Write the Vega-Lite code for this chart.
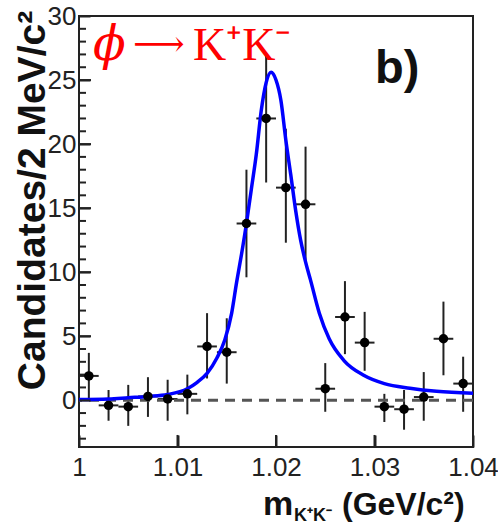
{
 "$schema": "https://vega.github.io/schema/vega-lite/v6.json",
 "width": 394, "height": 431,
 "autosize": "none",
 "padding": {"left": 79, "top": 16, "right": 25, "bottom": 78},
 "background": "white",
 "config": {"view": {"stroke": "#222", "strokeWidth": 2}, "font": "Liberation Sans"},
 "resolve": {"axis": {"y": "independent"}},
 "datasets": {
  "points": [
   {"m": 1.001, "n": 1.9, "lo": 0.1, "hi": 3.7, "mlo": 1.000, "mhi": 1.002},
   {"m": 1.003, "n": -0.4, "lo": -1.6, "hi": 0.8, "mlo": 1.002, "mhi": 1.004},
   {"m": 1.005, "n": -0.5, "lo": -2.0, "hi": 1.2, "mlo": 1.004, "mhi": 1.006},
   {"m": 1.007, "n": 0.3, "lo": -1.3, "hi": 1.8, "mlo": 1.006, "mhi": 1.008},
   {"m": 1.009, "n": 0.1, "lo": -1.6, "hi": 1.6, "mlo": 1.008, "mhi": 1.010},
   {"m": 1.011, "n": 0.5, "lo": -1.1, "hi": 2.0, "mlo": 1.010, "mhi": 1.012},
   {"m": 1.013, "n": 4.2, "lo": 1.7, "hi": 6.8, "mlo": 1.012, "mhi": 1.014},
   {"m": 1.015, "n": 3.75, "lo": 1.3, "hi": 6.4, "mlo": 1.014, "mhi": 1.016},
   {"m": 1.017, "n": 13.8, "lo": 9.6, "hi": 18.0, "mlo": 1.016, "mhi": 1.018},
   {"m": 1.019, "n": 22.0, "lo": 17.0, "hi": 27.0, "mlo": 1.018, "mhi": 1.020},
   {"m": 1.021, "n": 16.6, "lo": 12.3, "hi": 21.2, "mlo": 1.020, "mhi": 1.022},
   {"m": 1.023, "n": 15.3, "lo": 10.9, "hi": 19.8, "mlo": 1.022, "mhi": 1.024},
   {"m": 1.025, "n": 0.9, "lo": -0.9, "hi": 2.9, "mlo": 1.024, "mhi": 1.026},
   {"m": 1.027, "n": 6.5, "lo": 3.6, "hi": 9.3, "mlo": 1.026, "mhi": 1.028},
   {"m": 1.029, "n": 4.5, "lo": 2.3, "hi": 6.9, "mlo": 1.028, "mhi": 1.030},
   {"m": 1.031, "n": -0.5, "lo": -1.7, "hi": 0.5, "mlo": 1.030, "mhi": 1.032},
   {"m": 1.033, "n": -0.7, "lo": -2.3, "hi": 0.8, "mlo": 1.032, "mhi": 1.034},
   {"m": 1.035, "n": 0.25, "lo": -1.6, "hi": 2.2, "mlo": 1.034, "mhi": 1.036},
   {"m": 1.037, "n": 4.8, "lo": 1.95, "hi": 7.7, "mlo": 1.036, "mhi": 1.038},
   {"m": 1.039, "n": 1.3, "lo": -0.9, "hi": 3.4, "mlo": 1.038, "mhi": 1.040}
  ],
  "fit": [
   {"m": 1.000, "f": 0.05}, {"m": 1.003, "f": 0.1}, {"m": 1.005, "f": 0.2},
   {"m": 1.007, "f": 0.3}, {"m": 1.009, "f": 0.45}, {"m": 1.011, "f": 0.9},
   {"m": 1.012, "f": 1.4}, {"m": 1.013, "f": 2.1}, {"m": 1.014, "f": 3.3},
   {"m": 1.0148, "f": 4.7}, {"m": 1.0155, "f": 6.8}, {"m": 1.016, "f": 9.2},
   {"m": 1.0165, "f": 11.4}, {"m": 1.017, "f": 13.8}, {"m": 1.0175, "f": 16.5},
   {"m": 1.018, "f": 19.2}, {"m": 1.0185, "f": 22.6}, {"m": 1.019, "f": 24.8},
   {"m": 1.0195, "f": 25.6}, {"m": 1.020, "f": 25.0}, {"m": 1.0205, "f": 23.4},
   {"m": 1.021, "f": 20.3}, {"m": 1.0215, "f": 17.6}, {"m": 1.022, "f": 14.8},
   {"m": 1.0225, "f": 12.5}, {"m": 1.023, "f": 10.8}, {"m": 1.0235, "f": 9.4},
   {"m": 1.0244, "f": 6.8}, {"m": 1.0254, "f": 4.8}, {"m": 1.0269, "f": 3.1},
   {"m": 1.0289, "f": 1.95}, {"m": 1.031, "f": 1.3}, {"m": 1.0336, "f": 0.94},
   {"m": 1.0363, "f": 0.7}, {"m": 1.040, "f": 0.55}
  ],
  "ymajor": [{"t": 0}, {"t": 5}, {"t": 10}, {"t": 15}, {"t": 20}, {"t": 25}, {"t": 30}],
  "yminor": [{"t": -3}, {"t": -2}, {"t": -1}, {"t": 1}, {"t": 2}, {"t": 3}, {"t": 4}, {"t": 6}, {"t": 7}, {"t": 8}, {"t": 9}, {"t": 11}, {"t": 12}, {"t": 13}, {"t": 14}, {"t": 16}, {"t": 17}, {"t": 18}, {"t": 19}, {"t": 21}, {"t": 22}, {"t": 23}, {"t": 24}, {"t": 26}, {"t": 27}, {"t": 28}, {"t": 29}],
  "xmajor": [{"t": 1.01}, {"t": 1.02}, {"t": 1.03}],
  "one": [{}]
 },
 "layer": [
  {
   "data": {"name": "points"},
   "mark": {"type": "rule", "stroke": "#222", "strokeWidth": 2},
   "encoding": {
    "x": {"field": "m", "type": "quantitative",
     "scale": {"domain": [1, 1.04], "nice": false, "zero": false},
     "axis": {"orient": "bottom", "values": [1, 1.01, 1.02, 1.03, 1.04], "zindex": 1, "ticks": true,
      "labelExpr": "datum.value === 1 ? '1' : format(datum.value, '.2f')",
      "offset": -12, "tickSize": 12, "tickWidth": 2, "tickColor": "#222", "tickOpacity": 1, "domain": false, "grid": false,
      "labelFlush": false, "labelOverlap": false, "labelFontSize": 26, "labelColor": "#222", "labelPadding": 7,
      "title": null}},
    "y": {"field": "lo", "type": "quantitative",
     "scale": {"domain": [-3.65, 30], "nice": false, "zero": false},
     "axis": {"orient": "left", "values": [0, 5, 10, 15, 20, 25, 30], "zindex": 1, "ticks": true,
      "offset": -11, "tickSize": 11,
      "tickWidth": 2, "tickColor": "#222", "tickOpacity": 1, "domain": false, "grid": false,
      "labelFlush": false, "labelOverlap": false, "labelFontSize": 26, "labelColor": "#222", "labelPadding": 3,
      "title": "Candidates/2 MeV/c²", "titleFontSize": 39, "titleFontWeight": "bold", "titleColor": "#111",
      "titleX": -58, "titleY": 184, "titleAlign": "center", "titleBaseline": "middle", "titleAngle": -90}},
    "y2": {"field": "hi"}
   }
  },
  {
   "data": {"name": "points"},
   "mark": {"type": "rule", "stroke": "#222", "strokeWidth": 2},
   "encoding": {
    "x": {"field": "mlo", "type": "quantitative"},
    "x2": {"field": "mhi"},
    "y": {"field": "n", "type": "quantitative", "axis": null}
   }
  },
  {
   "data": {"name": "ymajor"},
   "mark": {"type": "rule", "stroke": "#222", "strokeWidth": 2},
   "encoding": {
    "x": {"datum": 1.0},
    "x2": {"datum": 1.00122},
    "y": {"field": "t", "type": "quantitative", "axis": null}
   }
  },
  {
   "data": {"name": "yminor"},
   "mark": {"type": "rule", "stroke": "#222", "strokeWidth": 2},
   "encoding": {
    "x": {"datum": 1.0},
    "x2": {"datum": 1.00071},
    "y": {"field": "t", "type": "quantitative", "axis": null}
   }
  },
  {
   "data": {"name": "xmajor"},
   "mark": {"type": "rule", "stroke": "#222", "strokeWidth": 2},
   "encoding": {
    "x": {"field": "t", "type": "quantitative"},
    "y": {"datum": -3.65, "axis": null},
    "y2": {"datum": -2.71}
   }
  },
  {
   "data": {"name": "one"},
   "mark": {"type": "rule", "stroke": "#555", "strokeWidth": 3, "strokeDash": [10, 7]},
   "encoding": {"y": {"datum": 0, "type": "quantitative", "axis": null}}
  },
  {
   "data": {"name": "fit"},
   "mark": {"type": "line", "stroke": "#0000ff", "strokeWidth": 3.5, "interpolate": "monotone"},
   "encoding": {
    "x": {"field": "m", "type": "quantitative"},
    "y": {"field": "f", "type": "quantitative", "axis": null}
   }
  },
  {
   "data": {"name": "points"},
   "mark": {"type": "point", "filled": true, "shape": "circle", "size": 90, "color": "#000", "opacity": 1},
   "encoding": {
    "x": {"field": "m", "type": "quantitative"},
    "y": {"field": "n", "type": "quantitative", "axis": null}
   }
  },
  {
   "data": {"name": "one"},
   "mark": {"type": "text", "text": "ϕ", "font": "DejaVu Serif", "fontStyle": "italic", "fontSize": 48, "color": "#ff0000", "align": "left", "baseline": "alphabetic"},
   "encoding": {"x": {"datum": 1.00142}, "y": {"datum": 26.56, "axis": null}}
  },
  {
   "data": {"name": "one"},
   "mark": {"type": "text", "text": "⟶", "font": "DejaVu Serif", "fontSize": 36, "color": "#ff0000", "align": "left", "baseline": "alphabetic"},
   "encoding": {"x": {"datum": 1.00548}, "y": {"datum": 26.9, "axis": null}}
  },
  {
   "data": {"name": "one"},
   "mark": {"type": "text", "text": "K⁺K⁻", "font": "Liberation Serif", "fontSize": 46, "color": "#ff0000", "align": "left", "baseline": "alphabetic"},
   "encoding": {"x": {"datum": 1.01157}, "y": {"datum": 26.56, "axis": null}}
  },
  {
   "data": {"name": "one"},
   "mark": {"type": "text", "text": "b)", "fontWeight": "bold", "fontSize": 47, "color": "#111", "align": "left", "baseline": "alphabetic"},
   "encoding": {"x": {"datum": 1.03005}, "y": {"datum": 24.75, "axis": null}}
  },
  {
   "data": {"name": "one"},
   "mark": {"type": "text", "text": "m", "fontWeight": "bold", "fontSize": 34, "color": "#111", "align": "left", "baseline": "alphabetic"},
   "encoding": {"x": {"datum": 1.01868}, "y": {"datum": -8.98, "axis": null}}
  },
  {
   "data": {"name": "one"},
   "mark": {"type": "text", "text": "K⁺K⁻", "fontWeight": "bold", "fontSize": 18, "color": "#111", "align": "left", "baseline": "alphabetic"},
   "encoding": {"x": {"datum": 1.02183}, "y": {"datum": -9.4, "axis": null}}
  },
  {
   "data": {"name": "one"},
   "mark": {"type": "text", "text": "(GeV/c²)", "fontWeight": "bold", "fontSize": 32, "color": "#111", "align": "left", "baseline": "alphabetic"},
   "encoding": {"x": {"datum": 1.0267}, "y": {"datum": -8.98, "axis": null}}
  }
 ]
}
